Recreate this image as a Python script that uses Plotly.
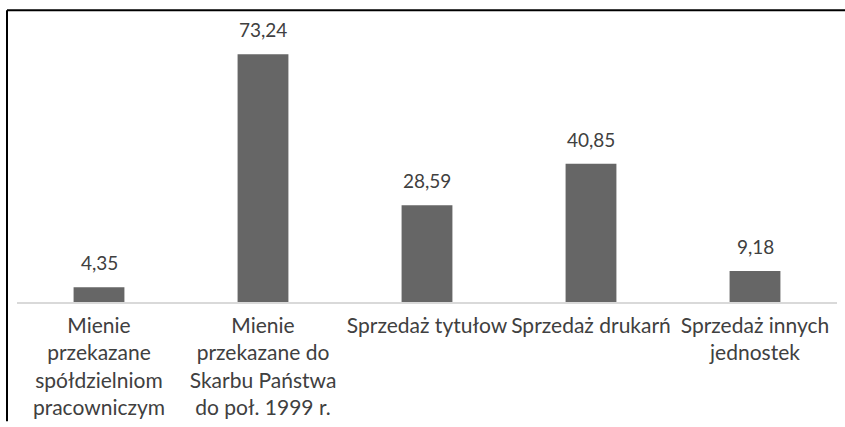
import plotly.graph_objects as go

categories = [
    "Mienie<br>przekazane<br>spółdzielniom<br>pracowniczym",
    "Mienie<br>przekazane do<br>Skarbu Państwa<br>do poł. 1999 r.",
    "Sprzedaż tytułow",
    "Sprzedaż drukarń",
    "Sprzedaż innych<br>jednostek",
]
values = [4.35, 73.24, 28.59, 40.85, 9.18]

FONT = "Lato"
TXT = "#404040"

fig = go.Figure()
fig.add_trace(go.Bar(
    x=categories, y=values,
    marker=dict(color="#666666", line=dict(width=0)),
    hoverinfo="skip",
))

for c, v in zip(categories, values):
    fig.add_annotation(
        x=c, y=v, text=f"{v:.2f}".replace(".", ","),
        showarrow=False, yanchor="bottom", yshift=11,
        font=dict(family=FONT, size=19, color=TXT),
    )

T, B = 28, 121
PH = 427 - T - B

fig.update_layout(
    width=845, height=427,
    margin=dict(l=17, r=8, t=T, b=B),
    paper_bgcolor="white", plot_bgcolor="white",
    bargap=0.69,
    showlegend=False,
    font=dict(family=FONT, size=21, color=TXT),
    xaxis=dict(
        showline=True, linecolor="#d9d9d9", linewidth=1.5,
        showgrid=False, ticks="", tickangle=0, ticklabelstandoff=4,
        tickfont=dict(family=FONT, size=21, color=TXT),
    ),
    yaxis=dict(range=[0, 81], visible=False, showgrid=False, zeroline=False),
    shapes=[
        dict(type="line", xref="paper", yref="paper", x0=-10/820, x1=1 + 8/820,
             y0=1 + 18/PH, y1=1 + 18/PH, line=dict(color="black", width=2)),
        dict(type="line", xref="paper", yref="paper", x0=-10/820, x1=-10/820,
             y0=1 + 18/PH, y1=-B/PH, line=dict(color="black", width=2)),
    ],
)

fig.write_html("out.html",
               config={"displayModeBar": False},
               post_script="document.body.style.margin='0';document.body.style.overflow='hidden';")
